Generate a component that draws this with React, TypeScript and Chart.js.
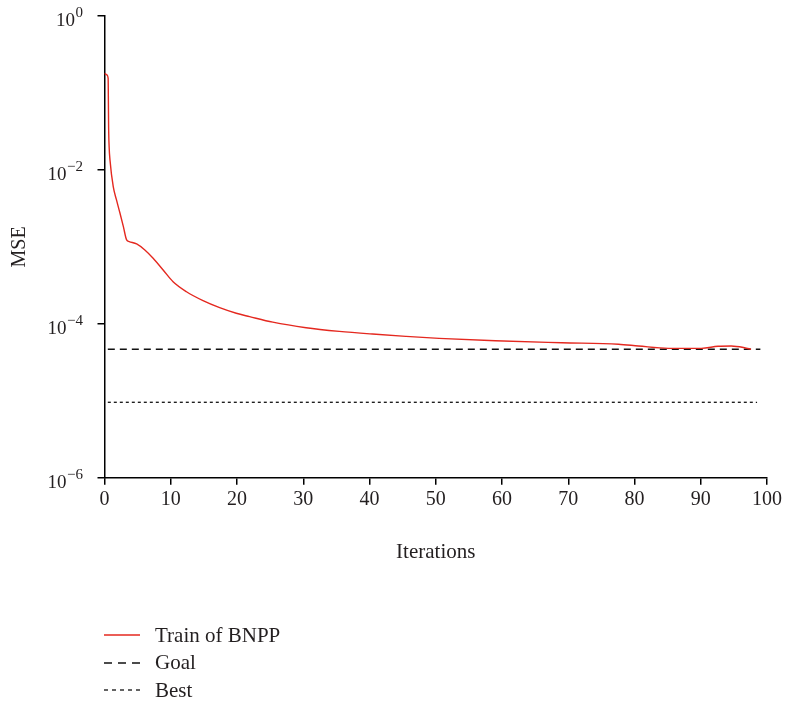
import React, { useEffect, useRef } from 'react';
import { Chart, registerables } from 'chart.js';

Chart.register(...registerables);

// ---- data ----
const iterations = [
  0, 0.35, 0.55, 0.58, 0.62, 0.7, 0.83, 1.32, 1.8, 2.33, 2.85, 3.34, 3.73, 4.85, 6.09, 7.34, 8.85,
  10.35, 12.37, 14.87, 17.38, 19.89, 21.9, 25.4, 30.43, 35.44, 40.45, 45.48, 50.49,
  59.0, 69.04, 77.58, 80.59, 85.1, 90.1, 92.6, 94.6, 96.6, 97.6,
];
const trainMSE = [
  0.18, 0.172, 0.155, 0.09, 0.037, 0.02, 0.0134, 0.00605, 0.0041, 0.00275, 0.00183, 0.00123, 0.00117,
  0.00109, 0.00091, 0.00071, 0.0005, 0.000352, 0.000261, 0.0002, 0.000162, 0.000137,
  0.000124, 0.000105, 8.9e-5, 7.98e-5, 7.36e-5, 6.87e-5, 6.47e-5, 6.02e-5, 5.67e-5,
  5.42e-5, 5.15e-5, 4.8e-5, 4.8e-5, 5.1e-5, 5.15e-5, 4.89e-5, 4.66e-5,
];
const goalMSE = 4.66e-5;
const bestMSE = 9.55e-6;
const goalIterRange = [0.5, 99];
const bestIterRange = [0.5, 98.5];
const seriesLabels = ['Train of BNPP', 'Goal', 'Best'];
const yTickValues = [1e-6, 1e-4, 1e-2, 1];
const yTickBase = '10';
const yTickExponents = ['\u22126', '\u22124', '\u22122', '0'];
const xAxisTitle = 'Iterations';
const yAxisTitle = 'MSE';

const FONT = "'Liberation Serif', 'Times New Roman', serif";
const TEXT = '#231f20';
const RED = '#e4281f';

const yLabelPlugin = {
  id: 'yLabels',
  afterDraw(chart: any) {
    const ctx = chart.ctx;
    const y = chart.scales.y;
    ctx.save();
    ctx.fillStyle = TEXT;
    ctx.textBaseline = 'alphabetic';
    yTickValues.forEach((v, i) => {
      const py = y.getPixelForValue(v);
      const exp = yTickExponents[i];
      ctx.font = `15px ${FONT}`;
      const ew = ctx.measureText(exp).width;
      const right = 83;
      ctx.textAlign = 'left';
      ctx.fillText(exp, right - ew, py + 1);
      ctx.font = `19px ${FONT}`;
      ctx.textAlign = 'right';
      ctx.fillText(yTickBase, right - ew - 0.5, py + 10);
    });
    ctx.restore();
  },
};

const legendPlugin = {
  id: 'stackLegend',
  afterDraw(chart: any) {
    const ctx = chart.ctx;
    const rows = [
      { lineY: 635, textY: 641.5, dash: [] as number[] },
      { lineY: 663, textY: 669, dash: [8, 6] },
      { lineY: 690, textY: 696.5, dash: [4, 4] },
    ];
    ctx.save();
    chart.data.datasets.forEach((ds: any, i: number) => {
      const r = rows[i];
      ctx.beginPath();
      ctx.setLineDash(r.dash);
      ctx.strokeStyle = ds.borderColor;
      ctx.lineWidth = 1.3;
      ctx.moveTo(104, r.lineY);
      ctx.lineTo(140, r.lineY);
      ctx.stroke();
      ctx.setLineDash([]);
      ctx.fillStyle = TEXT;
      ctx.font = `21px ${FONT}`;
      ctx.textAlign = 'left';
      ctx.textBaseline = 'alphabetic';
      ctx.fillText(ds.label, 155, r.textY);
    });
    ctx.restore();
  },
};

export default function App() {
  const ref = useRef<HTMLCanvasElement | null>(null);

  useEffect(() => {
    document.body.style.margin = '0';
    if (!ref.current) return;
    Chart.defaults.font.family = FONT;
    const chart = new Chart(ref.current, {
      type: 'line',
      data: {
        datasets: [
          {
            label: seriesLabels[0],
            data: iterations.map((x, i) => ({ x, y: trainMSE[i] })),
            borderColor: RED,
            borderWidth: 1.4,
            pointRadius: 0,
            cubicInterpolationMode: 'monotone',
          },
          {
            label: seriesLabels[1],
            data: goalIterRange.map((x) => ({ x, y: goalMSE })),
            borderColor: '#111',
            borderWidth: 1.4,
            borderDash: [7, 5],
            pointRadius: 0,
          },
          {
            label: seriesLabels[2],
            data: bestIterRange.map((x) => ({ x, y: bestMSE })),
            borderColor: '#111',
            borderWidth: 1.3,
            borderDash: [3, 3],
            pointRadius: 0,
          },
        ],
      },
      options: {
        responsive: false,
        animation: false,
        layout: { padding: { left: 0, right: 16, top: 16, bottom: 0 } },
        plugins: { legend: { display: false }, tooltip: { enabled: false } },
        scales: {
          x: {
            type: 'linear',
            min: 0,
            max: 100,
            ticks: { stepSize: 10, color: TEXT, font: { size: 20, family: FONT }, padding: 3, maxRotation: 0 },
            grid: { drawOnChartArea: false, drawTicks: true, tickLength: 7, color: '#000', lineWidth: 1.5 },
            border: { display: true, color: '#000', width: 1.5 },
            title: { display: true, text: xAxisTitle, color: TEXT, font: { size: 21, family: FONT }, padding: { top: 0, bottom: 136 } },
            afterFit: (s: any) => { s.height = 223.3; },
          },
          y: {
            type: 'logarithmic',
            min: 1e-6,
            max: 1,
            afterBuildTicks: (s: any) => { s.ticks = yTickValues.map((v) => ({ value: v })); },
            ticks: { callback: () => '', font: { size: 18, family: FONT } },
            grid: { drawOnChartArea: false, drawTicks: true, tickLength: 7, color: '#000', lineWidth: 1.5 },
            border: { display: true, color: '#000', width: 1.5 },
            title: { display: true, text: yAxisTitle, color: TEXT, font: { size: 20, family: FONT }, padding: { top: 8, bottom: 0 } },
            afterFit: (s: any) => { s.width = 104.5; },
          },
        },
      },
      plugins: [yLabelPlugin, legendPlugin],
    } as any);
    return () => chart.destroy();
  }, []);

  return (
    <div style={{ width: 785, height: 701, position: 'relative' }}>
      <canvas ref={ref} width={785} height={701} style={{ display: 'block' }} />
    </div>
  );
}
